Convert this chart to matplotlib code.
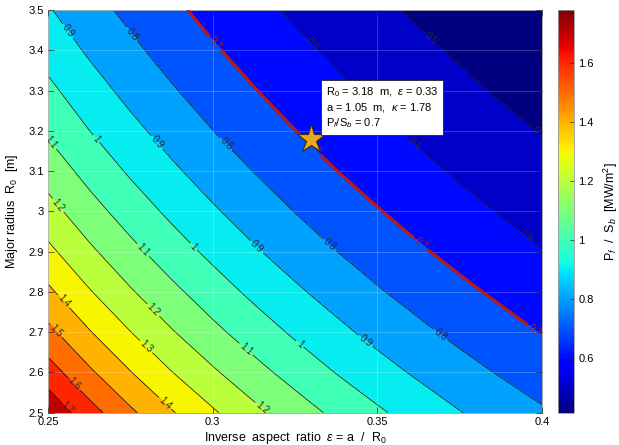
import numpy as np
import matplotlib
matplotlib.use("Agg")
import matplotlib.pyplot as plt
from matplotlib.colors import Normalize
from matplotlib.cm import ScalarMappable

plt.rcParams['font.family'] = ['Liberation Sans', 'DejaVu Sans']
plt.rcParams['mathtext.fontset'] = 'custom'
plt.rcParams['mathtext.rm'] = 'Liberation Sans'
plt.rcParams['mathtext.it'] = 'Liberation Sans:italic'
plt.rcParams['mathtext.bf'] = 'Liberation Sans:bold'

# Scan grid: inverse aspect ratio (columns) and major radius (rows)
epsilon = [0.25, 0.2625, 0.275, 0.2875, 0.30, 0.3125, 0.325,
           0.3375, 0.35, 0.3625, 0.375, 0.3875, 0.40]
major_radius = [2.5, 2.6, 2.7, 2.8, 2.9, 3.0, 3.1, 3.2, 3.3, 3.4, 3.5]

# Fusion power per blanket surface, P_f / S_b [MW/m^2]
wall_load = [
    [1.780, 1.641, 1.518, 1.409, 1.313, 1.226, 1.149, 1.078, 1.015, 0.957, 0.904, 0.856, 0.812],
    [1.646, 1.517, 1.404, 1.303, 1.214, 1.134, 1.062, 0.997, 0.938, 0.885, 0.836, 0.792, 0.751],
    [1.526, 1.407, 1.302, 1.208, 1.125, 1.051, 0.985, 0.925, 0.870, 0.821, 0.775, 0.734, 0.696],
    [1.419, 1.308, 1.210, 1.124, 1.047, 0.978, 0.916, 0.860, 0.809, 0.763, 0.721, 0.683, 0.647],
    [1.323, 1.219, 1.128, 1.047, 0.976, 0.911, 0.854, 0.801, 0.754, 0.711, 0.672, 0.636, 0.603],
    [1.236, 1.139, 1.054, 0.979, 0.912, 0.852, 0.798, 0.749, 0.705, 0.665, 0.628, 0.595, 0.564],
    [1.158, 1.067, 0.987, 0.917, 0.854, 0.798, 0.747, 0.701, 0.660, 0.622, 0.588, 0.557, 0.528],
    [1.086, 1.001, 0.927, 0.860, 0.801, 0.748, 0.701, 0.658, 0.619, 0.584, 0.552, 0.523, 0.496],
    [1.022, 0.942, 0.871, 0.809, 0.753, 0.704, 0.659, 0.619, 0.582, 0.549, 0.519, 0.491, 0.466],
    [0.962, 0.887, 0.821, 0.762, 0.710, 0.663, 0.621, 0.583, 0.549, 0.517, 0.489, 0.463, 0.439],
    [0.908, 0.837, 0.775, 0.719, 0.670, 0.626, 0.586, 0.550, 0.518, 0.488, 0.461, 0.437, 0.414],
]

contour_levels = [0.5, 0.6, 0.7, 0.8, 0.9, 1.0, 1.1, 1.2, 1.3, 1.4, 1.5, 1.6, 1.7]
design_level = 0.7

# Selected design point
design_R0 = 3.18
design_eps = 0.33
design_a = 1.05
design_kappa = 1.78

# Where the inline contour labels sit (eps, R0)
label_spots = [
    (0.2557, 3.446), (0.2834, 3.173), (0.3134, 2.912), (0.3462, 2.676),
    (0.2759, 3.443), (0.3043, 3.169), (0.3354, 2.916), (0.3690, 2.693),
    (0.3305, 3.418), (0.3614, 3.165), (0.3942, 2.927),
    (0.3665, 3.434), (0.3979, 3.185),
    (0.2648, 3.181), (0.2941, 2.912), (0.3265, 2.671),
    (0.2506, 3.170), (0.2789, 2.904), (0.3103, 2.660),
    (0.2526, 3.012), (0.2820, 2.755), (0.3149, 2.511),
    (0.2800, 2.666),
    (0.2547, 2.776), (0.2860, 2.527),
    (0.2516, 2.697),
    (0.2577, 2.569),
    (0.2557, 2.511),
]
design_label_spots = [(0.3012, 3.421), (0.3311, 3.158), (0.3629, 2.916), (0.3973, 2.699)]

E, R = np.meshgrid(epsilon, major_radius)
Z = np.array(wall_load)
zmin, zmax = Z.min(), Z.max()

cmap = plt.get_cmap('jet')
norm = Normalize(vmin=zmin, vmax=zmax)

fig = plt.figure(figsize=(6.19, 4.45), dpi=100)
ax = fig.add_axes([48 / 619, 1 - 412.7 / 445, 494 / 619, 402.7 / 445])
cax = fig.add_axes([558.3 / 619, 1 - 412.7 / 445, 15.7 / 619, 402.7 / 445])

# Filled bands take the colour of their lower bound
fill_levels = [zmin] + contour_levels + [zmax]
band_colors = [cmap(norm(v)) for v in fill_levels[:-1]]
ax.contourf(E, R, Z, levels=fill_levels, colors=band_colors, zorder=1)

ax.set_xlim(0.25, 0.40)
ax.set_ylim(2.5, 3.5)

other_levels = [v for v in contour_levels if abs(v - design_level) > 1e-9]
cs = ax.contour(E, R, Z, levels=other_levels, colors='#1a1a1a', linewidths=0.55, zorder=2)
ax.clabel(cs, fmt='%g', fontsize=7, colors='#2a2a2a', inline=True,
          inline_spacing=2, manual=label_spots)

red = '#b51a1a'
csr = ax.contour(E, R, Z, levels=[design_level], colors=red, linewidths=2.3, zorder=3)
ax.clabel(csr, fmt='%g', fontsize=7, colors=red, inline=True,
          inline_spacing=2, manual=design_label_spots)

ax.plot(design_eps, design_R0, marker='*', markersize=21, markerfacecolor='#e8a823',
        markeredgecolor='#3b2c05', markeredgewidth=0.8, zorder=6)

info = (f"R$_0$ = {design_R0:g}  m,  $\\varepsilon$ = {design_eps:g}\n"
        f"a = {design_a:g}  m,  $\\kappa$ = {design_kappa:g}\n"
        f"P$_f$/S$_b$ = {design_level:g}")
ax.text(0.3343, 3.314, info, ha='left', va='top', fontsize=8, linespacing=1.25,
        zorder=7, bbox=dict(boxstyle='square,pad=0.4', fc='white', ec='#202020', lw=0.6))

ax.set_xticks([0.25, 0.30, 0.35, 0.40])
ax.set_xticklabels([f"{v:g}" for v in [0.25, 0.30, 0.35, 0.40]])
yt = np.round(np.arange(2.5, 3.51, 0.1), 2)
ax.set_yticks(yt)
ax.set_yticklabels([f"{v:g}" for v in yt])
ax.tick_params(direction='in', length=4, width=0.5, color='#262626', labelsize=8,
               top=True, right=True, pad=3)
ax.grid(True, color='white', alpha=0.3, linewidth=0.5)
ax.set_axisbelow(False)
for s in ax.spines.values():
    s.set_color('#9a9a9a')
    s.set_linewidth(0.6)

ax.set_xlabel("Inverse  aspect  ratio  $\\varepsilon$ = a  /  R$_0$", fontsize=9, labelpad=2)
ax.set_ylabel("Major radius  R$_0$  [m]", fontsize=9, labelpad=6)

sm = ScalarMappable(norm=norm, cmap=cmap)
cb = fig.colorbar(sm, cax=cax)
cb.set_ticks([0.6, 0.8, 1.0, 1.2, 1.4, 1.6])
cb.set_ticklabels(["0.6", "0.8", "1", "1.2", "1.4", "1.6"])
cb.ax.tick_params(direction='in', length=3, width=0.5, color='#262626', labelsize=8, pad=3)
cb.outline.set_edgecolor('#9a9a9a')
cb.outline.set_linewidth(0.6)
cb.set_label("P$_f$  /  S$_b$  [MW/m$^2$]", fontsize=9, labelpad=6)

fig.savefig("out.png", dpi=100)
